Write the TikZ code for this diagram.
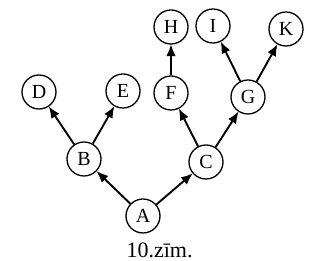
\documentclass[tikz,border=0pt]{standalone}
\usepackage{fontspec}
\setmainfont{Liberation Serif}
\usetikzlibrary{arrows.meta}
\begin{document}
\begin{tikzpicture}[x=1pt,y=-1pt,
  vert/.style={circle,draw,line width=1.3pt,minimum size=34pt,inner sep=0pt,font=\fontsize{20}{20}\selectfont},
  edge/.style={line width=1.9pt,-{Latex[length=12pt,width=9.5pt]},shorten >=-0.5pt}]
\useasboundingbox (0,0) rectangle (309,261);
\node[vert] (A) at (143,216) {A};
\node[vert] (B) at (84,159) {B};
\node[vert] (C) at (206,162) {C};
\node[vert] (D) at (39,92) {D};
\node[vert] (E) at (123,91) {E};
\node[vert] (F) at (171,93) {F};
\node[vert] (G) at (248,97) {G};
\node[vert] (H) at (171,27) {H};
\node[vert] (I) at (213,26) {I};
\node[vert] (K) at (286,29) {K};
\node[font=\fontsize{22}{22}\selectfont,anchor=base,inner sep=0pt] (cap) at (159.5,257.5) {10.zīm.};
\draw[edge] (A) -- (B);
\draw[edge] (A) -- (C);
\draw[edge] (B) -- (D);
\draw[edge] (B) -- (E);
\draw[edge] (C) -- (F);
\draw[edge] (C) -- (G);
\draw[edge] (F) -- (H);
\draw[edge] (G) -- (I);
\draw[edge] (G) -- (K);
\end{tikzpicture}
\end{document}
